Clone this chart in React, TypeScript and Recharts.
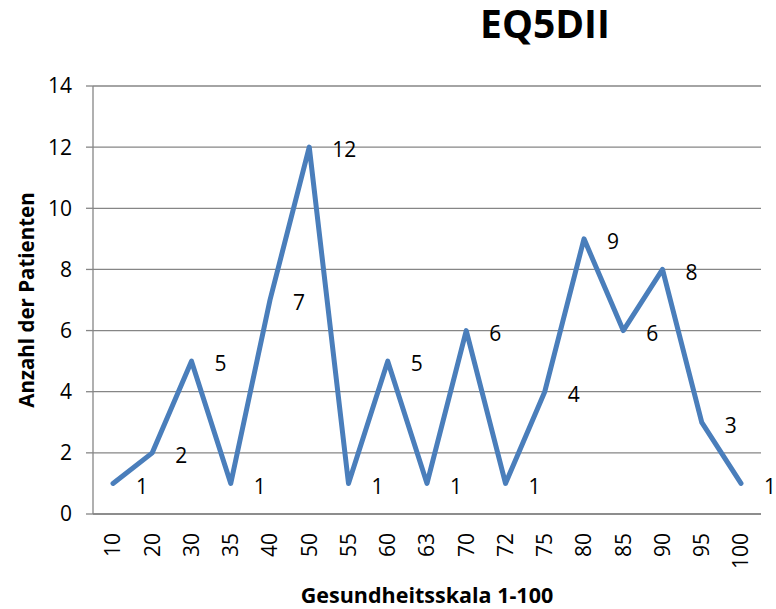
import React from 'react';
import { LineChart, Line, XAxis, YAxis, CartesianGrid, Label } from 'recharts';

// Gesundheitsskala-Werte (Kategorien) und Anzahl der Patienten
const scaleValues = ['10', '20', '30', '35', '40', '50', '55', '60', '63', '70', '72', '75', '80', '85', '90', '95', '100'];
const patientCounts = [1, 2, 5, 1, 7, 12, 1, 5, 1, 6, 1, 4, 9, 6, 8, 3, 1];
const yTicks = [0, 2, 4, 6, 8, 10, 12, 14];

const chartTitle = 'EQ5DII';
const xTitle = 'Gesundheitsskala 1-100';
const yTitle = 'Anzahl der Patienten';

const data = scaleValues.map((s, i) => ({ scale: s, count: patientCounts[i] }));

const FONT = '"Open Sans", sans-serif';
const GRID = '#868686';
const LINE = '#4a7ebb';

const XTick = (props: any) => {
    const { x, y, payload } = props;
    return (
        <g transform={`translate(${x},${y})`}>
            <text
                transform="rotate(-90)"
                x={-11}
                y={0}
                dy="0.35em"
                textAnchor="end"
                fontFamily={FONT}
                fontSize={21}
                fill="#000"
            >
                {payload.value}
            </text>
        </g>
    );
};

const PointLabel = (props: any) => {
    const { x, y, value } = props;
    return (
        <text x={x + 23} y={y + 3} dy="0.35em" textAnchor="start" fontFamily={FONT} fontSize={21} fill="#000">
            {value}
        </text>
    );
};

export default function App() {
    return (
        <div style={{ position: 'absolute', left: 0, top: 0, width: 776, height: 609, background: '#fff' }}>
            <LineChart width={776} height={609} data={data} margin={{ top: 86, right: 15, bottom: 35, left: 0 }}>
                <text
                    x={545}
                    y={38}
                    textAnchor="middle"
                    fontFamily={FONT}
                    fontWeight={700}
                    fontSize={39}
                    fill="#000"
                >
                    {chartTitle}
                </text>
                <CartesianGrid vertical={false} stroke={GRID} strokeWidth={1.3} />
                <XAxis
                    dataKey="scale"
                    height={60}
                    interval={0}
                    padding={{ left: 20, right: 20 }}
                    tickLine={false}
                    axisLine={{ stroke: GRID, strokeWidth: 1.3 }}
                    tick={<XTick />}
                >
                    <Label
                        content={(p: any) => {
                            const vb = p.viewBox;
                            return (
                                <text
                                    x={vb.x + vb.width / 2}
                                    y={vb.y + 81}
                                    dy="0.35em"
                                    textAnchor="middle"
                                    fontFamily={FONT}
                                    fontWeight={700}
                                    fontSize={21.5}
                                    fill="#000"
                                >
                                    {xTitle}
                                </text>
                            );
                        }}
                    />
                </XAxis>
                <YAxis
                    width={93}
                    domain={[0, 14]}
                    ticks={yTicks}
                    interval={0}
                    tickSize={7}
                    tickMargin={14}
                    tickLine={{ stroke: GRID, strokeWidth: 1.3 }}
                    axisLine={{ stroke: GRID, strokeWidth: 1.3 }}
                    tick={{ fontFamily: FONT, fontSize: 21, fill: '#000' }}
                >
                    <Label
                        content={(p: any) => {
                            const vb = p.viewBox;
                            const cx = vb.x + 27;
                            const cy = vb.y + vb.height / 2;
                            return (
                                <text
                                    x={cx}
                                    y={cy}
                                    dy="0.35em"
                                    transform={`rotate(-90, ${cx}, ${cy})`}
                                    textAnchor="middle"
                                    fontFamily={FONT}
                                    fontWeight={700}
                                    fontSize={20.5}
                                    fill="#000"
                                >
                                    {yTitle}
                                </text>
                            );
                        }}
                    />
                </YAxis>
                <Line
                    type="linear"
                    dataKey="count"
                    stroke={LINE}
                    strokeWidth={5}
                    strokeLinejoin="round"
                    strokeLinecap="round"
                    dot={false}
                    activeDot={false}
                    isAnimationActive={false}
                    label={<PointLabel />}
                />
            </LineChart>
        </div>
    );
}
